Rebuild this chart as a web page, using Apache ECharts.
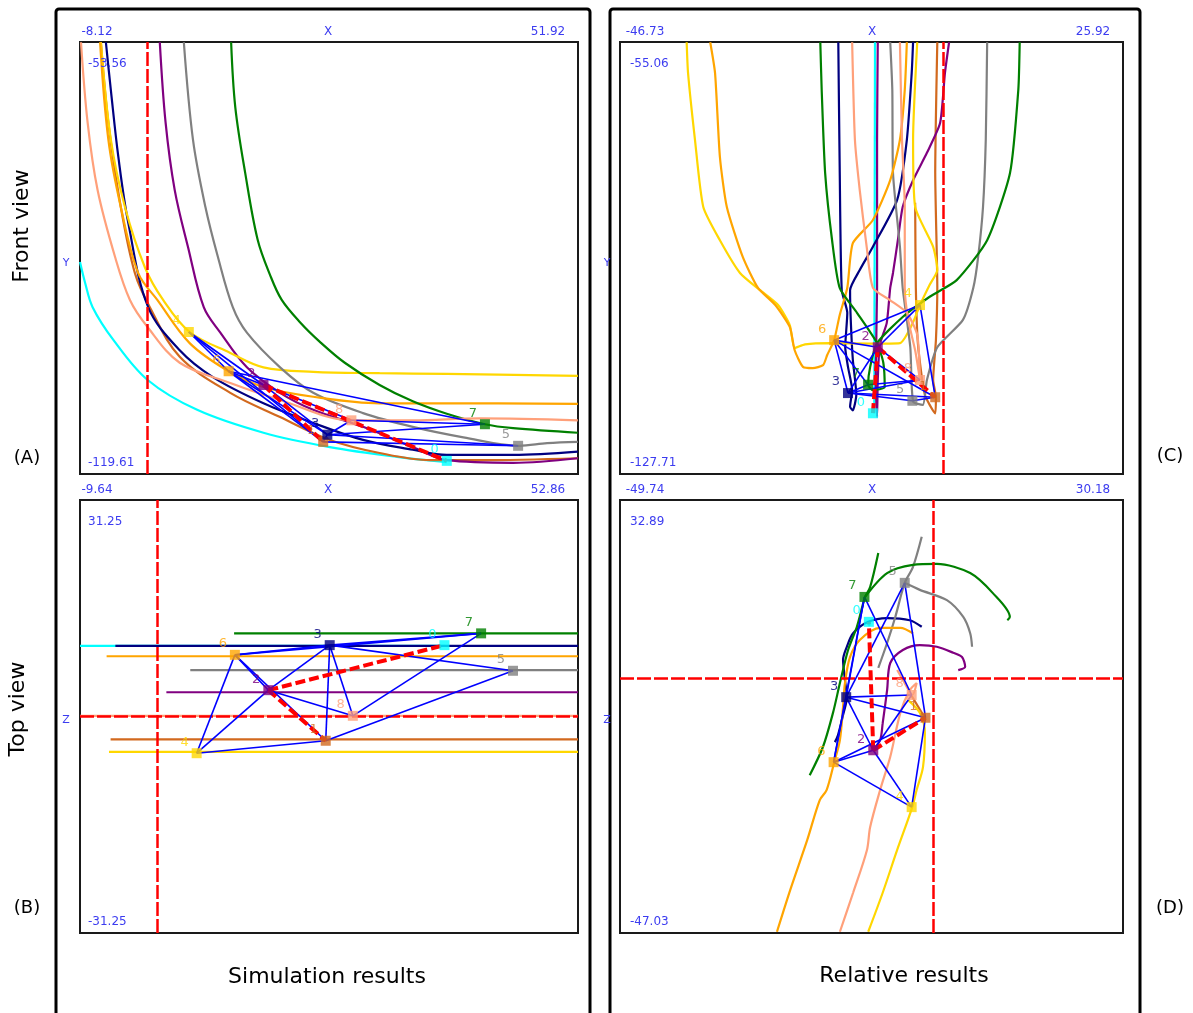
<!DOCTYPE html>
<html><head><meta charset="utf-8">
<script src="https://cdn.jsdelivr.net/npm/echarts@6/dist/echarts.min.js"></script>
<style>html,body{margin:0;padding:0;background:#fff}#chart{width:1193px;height:1013px}</style>
</head><body><div id="chart"></div>
<script>
// ---------- agents ----------
const AGENTS = ['0','1','2','3','4','5','6','7','8'];
const COLORS = ['#00FFFF','#D2691E','#800080','#000080','#FFD700','#808080','#FFA500','#008000','#FFA07A'];

// ---------- axis ranges (corner labels) ----------
const simFrontX = [-8.12, 51.92], simFrontY = [-119.61, -53.56];
const simTopX = [-9.64, 52.86], simTopZ = [-31.25, 31.25];
const relFrontX = [-46.73, 25.92], relFrontY = [-127.71, -55.06];
const relTopX = [-49.74, 30.18], relTopZ = [-47.03, 32.89];

// ---------- current positions (markers) ----------
const simX = [36.1, 21.2, 14.0, 21.7, 5.0, 44.7, 9.8, 40.7, 24.6];
const simY = [-117.6, -114.7, -106.0, -113.6, -97.9, -115.3, -103.9, -112.0, -111.4];
const simZ = [10.3, -3.5, 3.8, 10.3, -5.3, 6.6, 8.9, 12.0, 0.1];
const relX = [-10.2, -1.2, -9.5, -13.8, -3.4, -4.5, -15.8, -10.9, -3.4];
const relY = [-117.5, -114.8, -106.4, -114.1, -99.3, -115.4, -105.2, -112.7, -111.9];
const relZ = [10.4, -7.3, -13.3, -3.5, -23.8, 17.6, -15.5, 15.0, -3.1];

// ---------- formation links ----------
const formationEdges = [[6,3],[3,7],[6,7],[5,3],[5,1],[3,8],[3,1],[3,2],[2,8],[2,6],[2,4],[6,4],[6,1],[4,1],[7,8]];
const leaderEdges = [[2,1],[2,0]];

// ---------- (A) front view trajectories (x, y) ----------
const frontTrack0 = [[-8.12,-87.2],[-7.5,-90.4],[-6.6,-94.1],[-4.1,-99.1],[0.0,-105.2],[6.0,-109.8],[14.0,-113.3],[22.0,-115.5],[30.1,-117.0],[36.1,-117.8]];
const frontTrack1 = [[-5.6,-53.6],[-4.7,-65.9],[-3.2,-78.8],[-1.5,-88.9],[0.3,-94.1],[3.9,-101.7],[10.0,-107.2],[16.0,-110.9],[22.0,-114.4],[28.0,-116.4],[34.1,-117.5],[40.1,-117.5],[51.9,-117.2]];
const frontTrack2 = [[1.5,-53.6],[2.2,-65.9],[3.3,-76.2],[4.9,-84.9],[6.8,-94.1],[8.8,-98.0],[12.0,-103.3],[16.0,-107.2],[20.0,-109.8],[26.0,-112.4],[32.0,-115.5],[36.1,-117.5],[44.1,-117.9],[51.9,-117.2]];
const frontTrack3 = [[-5.0,-53.6],[-4.4,-60.9],[-3.5,-71.1],[-2.3,-81.2],[0.1,-94.1],[3.9,-100.7],[7.9,-104.8],[14.0,-108.8],[20.0,-111.8],[26.0,-114.4],[32.0,-115.9],[36.1,-116.7],[44.1,-116.7],[51.9,-116.2]];
const frontTrack4 = [[-5.6,-53.6],[-4.4,-68.5],[-2.7,-78.8],[-0.3,-88.0],[1.9,-93.0],[5.1,-97.9],[10.0,-101.1],[14.0,-103.3],[20.0,-104.0],[28.0,-104.2],[36.1,-104.3],[51.9,-104.6]];
const frontTrack5 = [[4.4,-53.6],[5.5,-68.5],[7.0,-78.8],[8.5,-86.4],[10.3,-94.1],[12.0,-98.0],[16.0,-103.3],[20.0,-107.2],[26.0,-110.3],[32.0,-112.4],[38.1,-114.0],[44.8,-115.3],[48.2,-114.9],[51.9,-114.7]];
const frontTrack6 = [[-5.7,-53.6],[-4.7,-68.5],[-3.2,-78.8],[-1.1,-88.9],[1.2,-93.0],[5.1,-99.6],[9.8,-103.9],[14.0,-106.3],[20.0,-107.8],[28.0,-108.8],[36.1,-108.8],[51.9,-108.9]];
const frontTrack7 = [[10.1,-53.6],[10.6,-63.5],[11.8,-73.6],[13.3,-83.8],[14.8,-89.2],[16.2,-93.0],[18.4,-96.4],[20.8,-99.4],[23.8,-102.6],[28.0,-106.0],[32.0,-108.5],[36.1,-110.4],[40.7,-112.0],[44.1,-112.6],[51.9,-113.3]];
const frontTrack8 = [[-8.0,-53.6],[-7.2,-65.9],[-6.0,-76.2],[-3.9,-86.4],[-2.1,-93.0],[0.0,-97.1],[3.9,-102.6],[10.0,-105.7],[16.0,-108.3],[24.7,-111.4],[32.0,-111.4],[40.1,-111.1],[51.9,-111.4]];

// ---------- (B) top view trajectories: constant z from start x to end x ----------
const topTrackZ = [10.2, -3.3, 3.5, 10.2, -5.1, 6.7, 8.7, 12.0, 0.1];
const topTrackStartX = [-9.64, -5.8, 1.2, -5.2, -6.0, 4.2, -6.3, 9.7, -9.64];
const topTrackEndX = [36.2, 52.86, 52.86, 52.86, 52.86, 52.86, 52.86, 52.86, 52.86];

// ---------- (C) relative front view trajectories ----------
const relFrontTrack0 = [[-9.9,-55.1],[-10.0,-117.5]];
const relFrontTrack1 = [[-0.9,-55.1],[-1.2,-77.1],[-0.9,-96.4],[-1.1,-105.2],[-1.5,-111.9],[-1.1,-114.8],[-1.2,-117.5],[-2.7,-114.4],[-3.7,-105.8],[-4.0,-96.4],[-4.1,-82.1]];
const relFrontTrack2 = [[0.8,-55.1],[0.2,-60.3],[-0.5,-68.7],[-2.4,-73.7],[-4.4,-78.3],[-5.9,-82.8],[-6.6,-88.4],[-7.3,-93.9],[-7.7,-96.4],[-8.2,-102.3],[-9.2,-106.0],[-9.5,-111.9],[-9.6,-118.1],[-9.8,-111.9],[-9.6,-96.4],[-9.6,-71.5],[-9.5,-55.1]];
const relFrontTrack3 = [[-15.2,-55.1],[-15.0,-76.1],[-14.7,-96.8],[-13.9,-100.6],[-14.2,-106.4],[-13.8,-109.7],[-13.2,-113.6],[-13.5,-116.4],[-13.1,-117.0],[-12.6,-114.4],[-13.1,-108.5],[-13.4,-101.8],[-13.5,-96.8],[-12.1,-93.4],[-10.2,-89.5],[-6.7,-81.6],[-5.3,-71.5],[-4.6,-60.3],[-4.4,-55.1]];
const relFrontTrack4 = [[-37.1,-55.1],[-36.9,-60.3],[-35.9,-71.5],[-34.7,-82.8],[-32.3,-88.4],[-29.4,-93.9],[-26.5,-96.8],[-23.9,-99.3],[-22.2,-102.7],[-21.5,-106.5],[-20.0,-105.9],[-16.4,-105.7],[-10.6,-105.8],[-6.3,-105.7],[-4.6,-102.7],[-3.4,-99.3],[-2.0,-95.9],[-0.9,-93.4],[-1.5,-89.5],[-4.1,-82.8],[-4.4,-71.5],[-3.8,-55.1]];
const relFrontTrack5 = [[-7.7,-55.1],[-7.4,-63.1],[-7.3,-77.1],[-6.3,-89.5],[-5.9,-96.4],[-4.8,-106.4],[-4.4,-115.5],[-3.0,-116.1],[-2.4,-111.9],[-0.9,-106.4],[2.8,-101.8],[4.3,-96.4],[5.0,-91.2],[5.7,-82.8],[6.1,-71.5],[6.3,-55.1]];
const relFrontTrack6 = [[-33.7,-55.1],[-33.0,-60.3],[-32.3,-74.4],[-31.3,-82.8],[-29.0,-91.2],[-26.8,-96.4],[-24.3,-99.3],[-22.2,-103.0],[-21.5,-106.9],[-20.3,-109.7],[-18.9,-109.9],[-17.4,-109.4],[-16.8,-107.7],[-15.8,-105.2],[-15.0,-101.0],[-13.9,-96.4],[-13.1,-88.9],[-10.2,-85.0],[-7.7,-78.3],[-6.3,-71.5],[-5.6,-63.1],[-5.3,-55.1]];
const relFrontTrack7 = [[-17.8,-55.1],[-17.6,-63.1],[-17.1,-77.1],[-16.1,-88.4],[-15.0,-96.4],[-12.5,-100.6],[-9.6,-105.7],[-8.7,-109.0],[-8.5,-113.1],[-10.2,-113.6],[-10.9,-112.7],[-10.6,-109.7],[-9.6,-105.7],[-5.9,-101.3],[-2.0,-97.9],[1.9,-95.1],[6.3,-88.4],[9.6,-77.1],[10.8,-63.1],[11.0,-55.1]];
const relFrontTrack8 = [[-13.2,-55.1],[-12.8,-71.5],[-12.1,-80.0],[-11.1,-89.5],[-10.2,-96.4],[-7.7,-98.5],[-5.3,-100.6],[-3.8,-104.3],[-3.4,-111.9],[-4.1,-106.9],[-5.1,-101.8],[-5.6,-96.4],[-5.6,-82.8],[-6.0,-71.5],[-6.3,-55.1]];

// ---------- (D) relative top view trajectories ----------
const relTopTrack0 = [[-10.2,10.4],[-10.1,9.6]];
const relTopTrack1 = [[-3.7,-2.7],[-1.3,-7.3]];
const relTopTrack2 = [[4.0,1.5],[5.1,2.1],[4.6,3.9],[3.2,4.7],[0.6,5.8],[-2.1,6.1],[-4.8,5.2],[-6.8,2.8],[-7.3,-2.2],[-8.0,-8.3],[-8.4,-11.4],[-9.5,-13.3]];
const relTopTrack3 = [[-1.8,9.5],[-3.7,10.7],[-7.3,11.1],[-10.3,10.4],[-12.7,8.3],[-13.7,5.8],[-14.3,3.4],[-14.0,-0.3],[-13.7,-3.5],[-14.3,-6.8],[-15.1,-10.5],[-15.6,-11.8]];
const relTopTrack4 = [[-4.0,-4.0],[-2.1,-6.4],[-1.3,-10.1],[-1.6,-16.4],[-2.6,-20.6],[-3.3,-23.8],[-5.7,-31.7],[-8.0,-39.6],[-10.3,-46.8]];
const relTopTrack5 = [[-1.8,26.1],[-3.2,20.5],[-4.5,17.6],[-6.0,11.3],[-7.3,6.5],[-8.7,1.9]];
const relTopTrack5b = [[-4.5,17.6],[-2.1,16.3],[2.2,14.4],[4.8,11.3],[5.9,8.3],[6.2,5.8]];
const relTopTrack6 = [[-3.2,8.3],[-5.2,9.3],[-8.4,9.3],[-11.6,7.1],[-13.2,3.9],[-14.0,-0.9],[-14.3,-5.3],[-14.8,-11.4],[-15.7,-15.5],[-16.9,-20.6],[-18.0,-22.5],[-20.0,-29.9],[-22.7,-39.1],[-24.8,-46.8]];
const relTopTrack7 = [[-10.8,15.0],[-7.3,19.4],[-3.2,20.9],[0.6,21.1],[5.9,19.4],[9.5,15.7],[12.2,11.3],[11.8,10.7]];
const relTopTrack7b = [[-8.7,23.1],[-10.0,16.8],[-10.8,15.0],[-12.1,9.5],[-13.5,5.2],[-14.8,-0.9],[-15.9,-6.4],[-17.5,-12.7],[-19.6,-17.9]];
const relTopTrack8 = [[-5.7,1.5],[-4.5,-0.9],[-3.3,-3.1],[-2.6,-0.9],[-3.7,-2.2],[-5.2,-6.4],[-6.8,-14.5],[-8.4,-20.6],[-10.0,-27.5],[-10.5,-31.7],[-12.7,-39.6],[-14.8,-46.8]];

// ---------- build ----------
const FONT = '"DejaVu Sans", Verdana, sans-serif';
const BLUE_TXT = '#3c3cf0';

const panels = [
  {grid:{left:80, top:42, width:498, height:432}, x:simFrontX, y:simFrontY, mx:simX, my:simY, smooth:0.35,
   tracks:[[frontTrack0,0],[frontTrack1,1],[frontTrack2,2],[frontTrack3,3],[frontTrack4,4],[frontTrack5,5],[frontTrack6,6],[frontTrack7,7],[frontTrack8,8]],
   refV:true, refH:false},
  {grid:{left:80, top:500, width:498, height:433}, x:simTopX, y:simTopZ, mx:simX, my:simZ, smooth:0,
   tracks:AGENTS.map((a,i)=>[[[topTrackStartX[i], topTrackZ[i]],[topTrackEndX[i], topTrackZ[i]]], i]),
   refV:true, refH:true},
  {grid:{left:620, top:42, width:503, height:432}, x:relFrontX, y:relFrontY, mx:relX, my:relY, smooth:0.2,
   tracks:[[relFrontTrack0,0],[relFrontTrack1,1],[relFrontTrack2,2],[relFrontTrack3,3],[relFrontTrack4,4],[relFrontTrack5,5],[relFrontTrack6,6],[relFrontTrack7,7],[relFrontTrack8,8]],
   refV:true, refH:false},
  {grid:{left:620, top:500, width:503, height:433}, x:relTopX, y:relTopZ, mx:relX, my:relZ, smooth:0.3,
   tracks:[[relTopTrack0,0],[relTopTrack1,1],[relTopTrack2,2],[relTopTrack3,3],[relTopTrack4,4],[relTopTrack5,5],[relTopTrack5b,5],[relTopTrack6,6],[relTopTrack7,7],[relTopTrack7b,7],[relTopTrack8,8]],
   refV:true, refH:true}
];

const grid = [], xAxis = [], yAxis = [], series = [];
panels.forEach((p, k) => {
  grid.push(Object.assign({show:true, borderColor:'#1a1a1a', borderWidth:2, backgroundColor:'transparent'}, p.grid));
  xAxis.push({type:'value', gridIndex:k, min:p.x[0], max:p.x[1], show:false});
  yAxis.push({type:'value', gridIndex:k, min:p.y[0], max:p.y[1], show:false});
  p.tracks.forEach(([data, i]) => {
    series.push({type:'line', xAxisIndex:k, yAxisIndex:k, data:data, symbol:'none', showSymbol:false,
      smooth:p.smooth, lineStyle:{color:COLORS[i], width:2.2}, silent:true, z:2});
  });
  const refs = [];
  if (p.refV) refs.push({coords:[[0, p.y[0]],[0, p.y[1]]]});
  if (p.refH) refs.push({coords:[[p.x[0], 0],[p.x[1], 0]]});
  series.push({type:'lines', coordinateSystem:'cartesian2d', xAxisIndex:k, yAxisIndex:k, data:refs, silent:true, z:3,
    lineStyle:{color:'#FF0000', width:2.5, type:[14,3], opacity:1, curveness:0}});
  series.push({type:'lines', coordinateSystem:'cartesian2d', xAxisIndex:k, yAxisIndex:k, silent:true, z:4,
    data: formationEdges.map(([a,b]) => ({coords:[[p.mx[a], p.my[a]],[p.mx[b], p.my[b]]]})),
    lineStyle:{color:'#0000FF', width:1.6, opacity:1, curveness:0}});
  series.push({type:'lines', coordinateSystem:'cartesian2d', xAxisIndex:k, yAxisIndex:k, silent:true, z:5,
    data: leaderEdges.map(([a,b]) => ({coords:[[p.mx[a], p.my[a]],[p.mx[b], p.my[b]]]})),
    lineStyle:{color:'#FF0000', width:4, type:[10,4], opacity:1, curveness:0}});
  series.push({type:'scatter', xAxisIndex:k, yAxisIndex:k, silent:true, z:6, symbol:'rect', symbolSize:10,
    data: AGENTS.map((a,i) => ({name:a, value:[p.mx[i], p.my[i]], itemStyle:{color:COLORS[i]}, label:{color:COLORS[i]}})),
    label:{show:true, formatter:'{b}', position:'left', distance:3, offset:[0,-11], fontSize:13, fontFamily:FONT}});
});

function txt(text, x, y, o) {
  o = o || {};
  return {type:'text', x:x, y:y, rotation:o.rot || 0, silent:true, z:10,
    style:{text:text, fill:o.fill || BLUE_TXT, font:(o.size || 12) + 'px ' + FONT,
      textAlign:o.align || 'center', textVerticalAlign:'middle', align:o.align || 'center', verticalAlign:'middle'}};
}
const graphic = [
  {type:'rect', silent:true, shape:{x:56, y:9, width:534, height:1030, r:3}, style:{fill:'none', stroke:'#000', lineWidth:3}},
  {type:'rect', silent:true, shape:{x:610, y:9, width:530, height:1030, r:3}, style:{fill:'none', stroke:'#000', lineWidth:3}},
  // A
  txt(simFrontX[0].toFixed(2), 97, 32), txt('X', 328, 32), txt(simFrontX[1].toFixed(2), 548, 32),
  txt(simFrontY[1].toFixed(2), 88, 64, {align:'left'}), txt(simFrontY[0].toFixed(2), 88, 463, {align:'left'}),
  txt('Y', 66, 263, {size:11}),
  // B
  txt(simTopX[0].toFixed(2), 97, 490), txt('X', 328, 490), txt(simTopX[1].toFixed(2), 548, 490),
  txt(simTopZ[1].toFixed(2), 88, 522, {align:'left'}), txt(simTopZ[0].toFixed(2), 88, 922, {align:'left'}),
  txt('Z', 66, 720, {size:11}),
  // C
  txt(relFrontX[0].toFixed(2), 645, 32), txt('X', 872, 32), txt(relFrontX[1].toFixed(2), 1093, 32),
  txt(relFrontY[1].toFixed(2), 630, 64, {align:'left'}), txt(relFrontY[0].toFixed(2), 630, 463, {align:'left'}),
  txt('Y', 607, 263, {size:11}),
  // D
  txt(relTopX[0].toFixed(2), 645, 490), txt('X', 872, 490), txt(relTopX[1].toFixed(2), 1093, 490),
  txt(relTopZ[1].toFixed(2), 630, 522, {align:'left'}), txt(relTopZ[0].toFixed(2), 630, 922, {align:'left'}),
  txt('Z', 607, 720, {size:11}),
  // side / bottom captions
  txt('Front view', 22, 226, {rot:Math.PI/2, size:22, fill:'#000'}),
  txt('Top view', 18, 709, {rot:Math.PI/2, size:22, fill:'#000'}),
  txt('(A)', 27, 458, {size:18, fill:'#000'}),
  txt('(B)', 27, 908, {size:18, fill:'#000'}),
  txt('(C)', 1170, 456, {size:18, fill:'#000'}),
  txt('(D)', 1170, 908, {size:18, fill:'#000'}),
  txt('Simulation results', 327, 977, {size:22, fill:'#000'}),
  txt('Relative results', 904, 976, {size:22, fill:'#000'})
];

const chart = echarts.init(document.getElementById('chart'), null, {renderer:'canvas'});
chart.setOption({animation:false, backgroundColor:'#fff', grid, xAxis, yAxis, series, graphic});
</script></body></html>
